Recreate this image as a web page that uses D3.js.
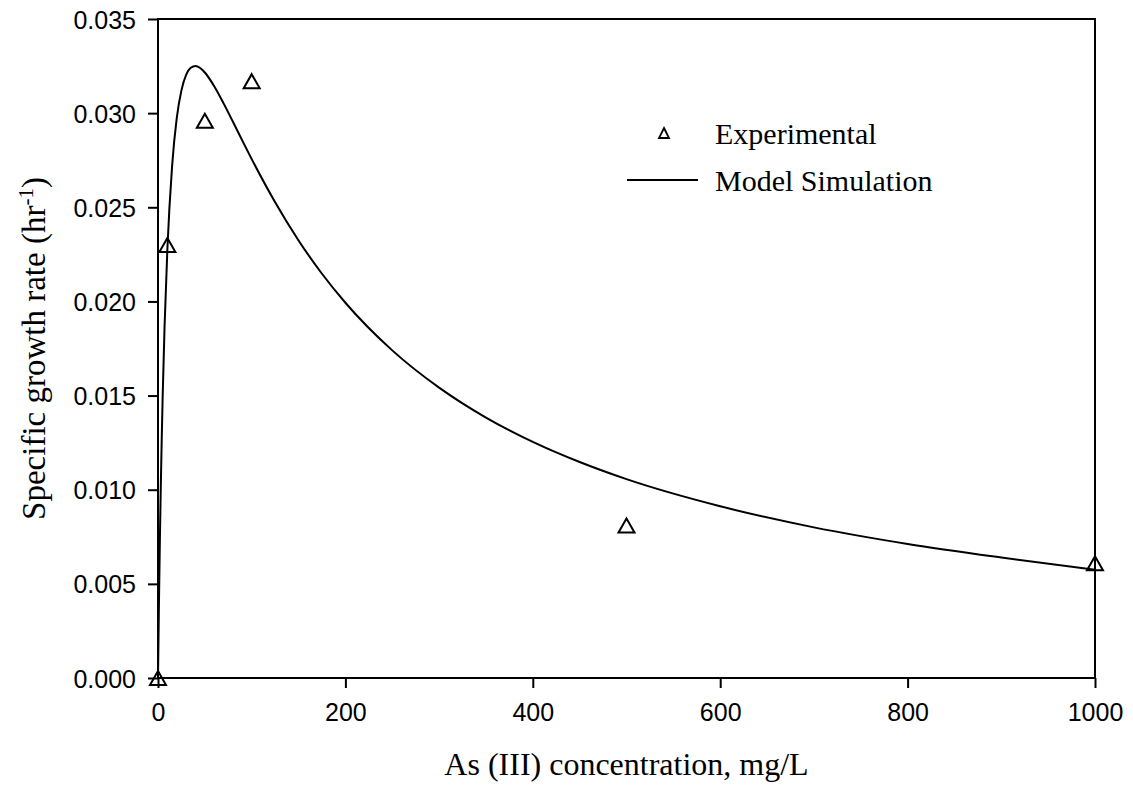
<!DOCTYPE html>
<html>
<head>
<meta charset="utf-8">
<script src="https://cdn.jsdelivr.net/npm/d3@7"></script>
<style>
  body { margin: 0; background: #fff; }
  svg { display: block; }
</style>
</head>
<body>
<svg id="chart" width="1133" height="793"></svg>
<script>
// Measured specific growth rates
const expConc = [0, 10, 50, 100, 500, 1000];
const expRate = [0.0, 0.0230, 0.0296, 0.0317, 0.0081, 0.0061];

// Simulated curve
const modelConc = [0, 1, 2, 3, 4, 5, 7, 10, 15, 20, 25, 30, 35, 40, 45, 50, 60, 70, 80, 90,
  100, 125, 150, 175, 200, 250, 300, 350, 400, 450, 500, 600, 700, 800, 900, 1000];
const modelRate = [0, 0.00393, 0.00730, 0.01022, 0.01276, 0.01499, 0.01867, 0.02277, 0.02716,
  0.02973, 0.03121, 0.03203, 0.03241, 0.03250, 0.03240, 0.03216, 0.03143, 0.03052, 0.02954,
  0.02854, 0.02756, 0.02527, 0.02324, 0.02147, 0.01993, 0.01740, 0.01542, 0.01383, 0.01254,
  0.01147, 0.01056, 0.00912, 0.00800, 0.00712, 0.00640, 0.00575];

const xTicks = [0, 200, 400, 600, 800, 1000];
const yTicks = [0, 0.005, 0.010, 0.015, 0.020, 0.025, 0.030, 0.035];

const svg = d3.select("#chart");
const plotLeft = 158, plotRight = 1095, plotTop = 19, plotBottom = 678;

const x = d3.scaleLinear().domain([0, 1000]).range([plotLeft, plotRight]);
const y = d3.scaleLinear().domain([0, 0.035]).range([plotBottom, plotTop]);

const tickFont = "'Liberation Sans', Arial, sans-serif";
const serif = "'Liberation Serif', 'Times New Roman', serif";

// Axes
const xAxis = d3.axisBottom(x).tickValues(xTicks).tickSize(10).tickPadding(8)
  .tickFormat(d3.format("d"));
const yAxis = d3.axisLeft(y).tickValues(yTicks).tickSize(10).tickPadding(12)
  .tickFormat(d3.format(".3f"));

const gx = svg.append("g").attr("transform", `translate(0,${plotBottom})`).call(xAxis);
const gy = svg.append("g").attr("transform", `translate(${plotLeft},0)`).call(yAxis);
[gx, gy].forEach(g => {
  g.select(".domain").remove();
  g.selectAll(".tick line").attr("stroke", "#000").attr("stroke-width", 2);
  g.selectAll(".tick text").attr("fill", "#000")
    .style("font-family", tickFont).style("font-size", "25px");
});
gx.selectAll(".tick text").attr("dy", "0.98em");
gy.selectAll(".tick text").attr("dy", "0.36em");

// Frame
svg.append("rect")
  .attr("x", plotLeft).attr("y", plotTop)
  .attr("width", plotRight - plotLeft).attr("height", plotBottom - plotTop)
  .attr("fill", "none").attr("stroke", "#000").attr("stroke-width", 2);

// Model curve
const modelPts = modelConc.map((c, i) => [c, modelRate[i]]);
const line = d3.line().x(d => x(d[0])).y(d => y(d[1])).curve(d3.curveMonotoneX);
svg.append("path")
  .datum(modelPts)
  .attr("d", line)
  .attr("fill", "none").attr("stroke", "#000").attr("stroke-width", 2);

// Open triangle markers
function triangle(cx, cy, hw, h) {
  return `M${cx},${cy - h / 2}L${cx + hw},${cy + h / 2}L${cx - hw},${cy + h / 2}Z`;
}
const expPts = expConc.map((c, i) => [c, expRate[i]]);
svg.append("g").selectAll("path")
  .data(expPts)
  .join("path")
  .attr("d", d => triangle(x(d[0]), y(d[1]), 8, 14))
  .attr("fill", "none").attr("stroke", "#000").attr("stroke-width", 2)
  .attr("stroke-linejoin", "miter");

// Legend
const legend = svg.append("g");
legend.append("path")
  .attr("d", triangle(664, 133, 5, 10))
  .attr("fill", "none").attr("stroke", "#000").attr("stroke-width", 1.8);
legend.append("text")
  .attr("x", 715).attr("y", 144)
  .style("font-family", serif).style("font-size", "30px")
  .text("Experimental");
legend.append("line")
  .attr("x1", 627).attr("x2", 698).attr("y1", 180).attr("y2", 180)
  .attr("stroke", "#000").attr("stroke-width", 2);
legend.append("text")
  .attr("x", 715).attr("y", 191)
  .style("font-family", serif).style("font-size", "30px")
  .text("Model Simulation");

// Axis titles
svg.append("text")
  .attr("x", (plotLeft + plotRight) / 2).attr("y", 775)
  .attr("text-anchor", "middle")
  .style("font-family", serif).style("font-size", "32px")
  .text("As (III) concentration, mg/L");

const yt = svg.append("text")
  .attr("transform", `translate(45,${(plotTop + plotBottom) / 2}) rotate(-90)`)
  .attr("text-anchor", "middle")
  .style("font-family", serif).style("font-size", "33px");
yt.append("tspan").text("Specific growth rate (hr");
yt.append("tspan").attr("dy", -12).style("font-size", "21px").text("-1");
yt.append("tspan").attr("dy", 12).text(")");
</script>
</body>
</html>
